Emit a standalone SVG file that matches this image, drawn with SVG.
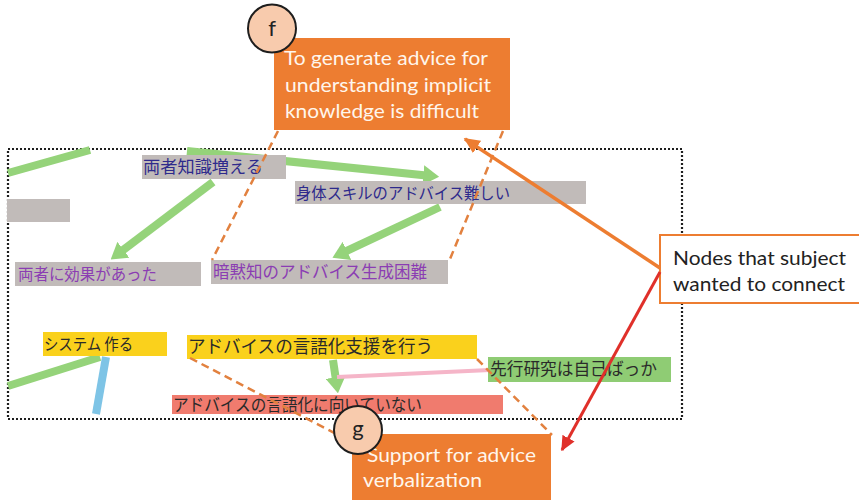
<svg xmlns="http://www.w3.org/2000/svg" width="859" height="502" viewBox="0 0 859 502">
<style>
.jp{font-family:"Noto Sans CJK JP","Noto Sans CJK SC",sans-serif}
.en{font-family:Lato,"Open Sans","Liberation Sans",sans-serif}
.gray{fill:#C1BBB9}
.navy{fill:#2E2A8C}
.purple{fill:#8B3DB3}
.dark{fill:#2A2A2A}
.green{stroke:#95D37A;stroke-width:8;fill:none}
.dash{stroke:#E2813F;stroke-width:2.5;stroke-dasharray:8 5;fill:none}
.obox{fill:#ED7D31}
.otext{fill:#FFF6EC;font-size:19px}
.circ{fill:#F8CBAD;stroke:#1E1E1E;stroke-width:2}
.ctext{font-size:22px;fill:#222;text-anchor:middle}
</style>
<defs>
<marker id="ga" viewBox="0 0 10 10" refX="0.5" refY="5" markerWidth="2" markerHeight="2.5" preserveAspectRatio="none" orient="auto"><path d="M0,0 L10,5 L0,10 z" fill="#95D37A"/></marker>
<marker id="oa" viewBox="0 0 10 10" refX="9" refY="5" markerWidth="4.6" markerHeight="4.2" preserveAspectRatio="none" orient="auto"><path d="M0,0 L10,5 L0,10 z" fill="#ED7D31"/></marker>
<marker id="ra" viewBox="0 0 10 10" refX="9" refY="5" markerWidth="5" markerHeight="4.6" preserveAspectRatio="none" orient="auto"><path d="M0,0 L10,5 L0,10 z" fill="#E0302A"/></marker>
</defs>
<rect width="859" height="502" fill="#FFFFFF"/>
<rect id="frame" x="8" y="149" width="674" height="270" fill="none" stroke="#1E1E1E" stroke-width="2.2" stroke-dasharray="2 2"/>
<g id="connectors">
<line class="green" x1="8" y1="173" x2="90" y2="150"/>
<line class="green" x1="213" y1="182" x2="122.8" y2="250.3" marker-end="url(#ga)"/>
<line class="green" x1="187" y1="151" x2="424" y2="175.3" marker-end="url(#ga)"/>
<line class="green" x1="440" y1="207" x2="346.2" y2="251.2" marker-end="url(#ga)"/>
<line class="green" x1="8" y1="386" x2="100" y2="357"/>
<line x1="106" y1="357" x2="96" y2="414" stroke="#7EC4E6" stroke-width="8"/>
<line class="green" x1="333" y1="360" x2="335.7" y2="378.2" stroke-width="7" marker-end="url(#ga)"/>
<line x1="337" y1="377" x2="490" y2="370" stroke="#F5B5C8" stroke-width="4"/>
</g>
<g id="n_left"><rect class="gray" x="7" y="199" width="63" height="23"/></g>
<g id="n1"><rect class="gray" x="142" y="155" width="144" height="24"/><text class="jp navy" x="143" y="173" font-size="17" textLength="120" lengthAdjust="spacingAndGlyphs">両者知識増える</text></g>
<g id="n2"><rect class="gray" x="295" y="181" width="291" height="23"/><text class="jp navy" x="296" y="199" font-size="16" textLength="214" lengthAdjust="spacingAndGlyphs">身体スキルのアドバイス難しい</text></g>
<g id="n3"><rect class="gray" x="15" y="262" width="186" height="24"/><text class="jp purple" x="18" y="280" font-size="16" textLength="139" lengthAdjust="spacingAndGlyphs">両者に効果があった</text></g>
<g id="n4"><rect class="gray" x="211" y="260" width="237" height="24"/><text class="jp purple" x="213" y="278" font-size="17" textLength="214" lengthAdjust="spacingAndGlyphs">暗黙知のアドバイス生成困難</text></g>
<g id="n5"><rect x="43" y="332" width="124" height="24" fill="#FAD11C"/><text class="jp dark" x="44" y="350" font-size="16" textLength="89" lengthAdjust="spacingAndGlyphs">システム 作る</text></g>
<g id="n6"><rect x="187" y="335" width="290" height="24" fill="#FAD11C"/><text class="jp dark" x="188" y="353" font-size="18" textLength="245" lengthAdjust="spacingAndGlyphs">アドバイスの言語化支援を行う</text></g>
<g id="n7"><rect x="488" y="357" width="183" height="25" fill="#8FCC74"/><text class="jp dark" x="490" y="375" font-size="16.5" textLength="167" lengthAdjust="spacingAndGlyphs">先行研究は自己ばっか</text></g>
<g id="n8"><rect x="172" y="395" width="331" height="19" fill="#F07B6E"/><text class="jp dark" x="173" y="411" font-size="17" textLength="249" lengthAdjust="spacingAndGlyphs">アドバイスの言語化に向いていない</text></g>
<g id="dashes">
<line class="dash" x1="278" y1="131" x2="212" y2="260"/>
<line class="dash" x1="503" y1="131" x2="450" y2="259"/>
<line class="dash" x1="190" y1="358" x2="348" y2="440"/>
<line class="dash" x1="477" y1="359" x2="552" y2="435"/>
</g>
<g id="f_box"><rect class="obox" x="274" y="38" width="236" height="92"/>
<text class="en otext" x="284" y="65" textLength="204" lengthAdjust="spacingAndGlyphs">To generate advice for</text>
<text class="en otext" x="285" y="92" textLength="206" lengthAdjust="spacingAndGlyphs">understanding implicit</text>
<text class="en otext" x="285" y="118" textLength="194" lengthAdjust="spacingAndGlyphs">knowledge is difficult</text></g>
<g id="g_box"><rect class="obox" x="352" y="434" width="199" height="66"/>
<text class="en otext" x="367" y="462" textLength="169" lengthAdjust="spacingAndGlyphs">Support for advice</text>
<text class="en otext" x="363" y="487" textLength="119" lengthAdjust="spacingAndGlyphs">verbalization</text></g>
<g id="note"><rect x="660" y="235" width="210" height="68" fill="#FFFFFF" stroke="#ED7D31" stroke-width="2"/>
<text class="en" x="673" y="265" font-size="19" fill="#222" textLength="173" lengthAdjust="spacingAndGlyphs">Nodes that subject</text>
<text class="en" x="673" y="291" font-size="19" fill="#222" textLength="172" lengthAdjust="spacingAndGlyphs">wanted to connect</text></g>
<g id="pointers">
<line x1="660" y1="268" x2="465" y2="139" stroke="#ED7D31" stroke-width="3.5" marker-end="url(#oa)"/>
<line x1="660" y1="272" x2="562" y2="450" stroke="#E0302A" stroke-width="3" marker-end="url(#ra)"/>
</g>
<g id="c_f"><circle class="circ" cx="272" cy="28.5" r="24"/><text class="en ctext" x="272" y="36">f</text></g>
<g id="c_g"><circle class="circ" cx="358" cy="430" r="24"/><text class="en ctext" x="358" y="436">g</text></g>
</svg>
